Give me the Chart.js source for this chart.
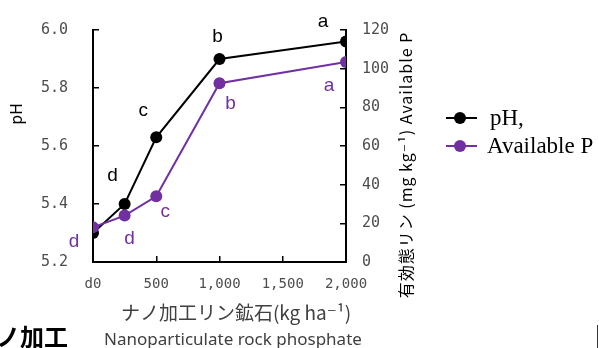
<!DOCTYPE html>
<html>
<head>
<meta charset="utf-8">
<script src="https://cdn.jsdelivr.net/npm/chart.js@4.4.1/dist/chart.umd.min.js"></script>
<style>
  html, body { margin: 0; padding: 0; background: #fff; }
  #wrap { width: 599px; height: 348px; position: relative; }
</style>
</head>
<body>
<div id="wrap"><canvas id="chart"></canvas></div>
<script>
// rates of nanoparticulate rock phosphate (kg/ha)
var rates = [0, 250, 500, 1000, 2000];
var phValues = [5.30, 5.40, 5.63, 5.90, 5.96];
var availP = [18, 24, 34, 92.5, 103.5];
var phLetters = ['', 'd', 'c', 'b', 'a'];
var pLetters = ['d', 'd', 'c', 'b', 'a'];
var xTickLabels = ['d0', '500', '1,000', '1,500', '2,000'];
var legendNames = ['pH,', 'Available P'];

var black = '#000000';
var purple = '#7030a0';
var tickGrey = '#4d4d4d';
var monoFont = "'DejaVu Sans Mono', monospace";
var jpFont = "'Noto Sans CJK JP', 'DejaVu Sans', sans-serif";

// letter offsets from the point centre, [dx, dy]
var phOffsets = [[0, 0], [-12, -28], [-13, -27], [-2, -22], [-23, -20]];
var pOffsets = [[-19, 15], [5, 23], [9, 15], [11, 21], [-17, 24]];

function pts(ys) {
    return rates.map(function (x, i) { return { x: x, y: ys[i] }; });
}

var extras = {
    id: 'extras',
    afterDatasetsDraw: function (chart) {
        var ctx = chart.ctx;
        ctx.save();
        ctx.font = "19px 'Liberation Sans', Arial, sans-serif";
        ctx.textAlign = 'center';
        ctx.textBaseline = 'middle';
        var sets = [[phLetters, phOffsets, black], [pLetters, pOffsets, purple]];
        sets.forEach(function (s, di) {
            var meta = chart.getDatasetMeta(di);
            meta.data.forEach(function (el, j) {
                if (!s[0][j]) return;
                ctx.fillStyle = s[2];
                ctx.fillText(s[0][j], el.x + s[1][j][0], el.y + s[1][j][1]);
            });
        });
        ctx.restore();
    },
    afterDraw: function (chart) {
        var ctx = chart.ctx;
        ctx.save();

        // left axis title
        ctx.fillStyle = black;
        ctx.font = "16px " + jpFont;
        ctx.textAlign = 'center';
        ctx.textBaseline = 'middle';
        ctx.translate(16, 114);
        ctx.rotate(-Math.PI / 2);
        ctx.fillText('pH', 0, 0);
        ctx.setTransform(1, 0, 0, 1, 0, 0);

        // right axis title
        ctx.font = "16px " + jpFont;
        ctx.letterSpacing = '1px';
        ctx.translate(406, 165);
        ctx.rotate(-Math.PI / 2);
        ctx.fillText('有効態リン (mg kg⁻¹) Available P', 0, 0);
        ctx.setTransform(1, 0, 0, 1, 0, 0);
        ctx.letterSpacing = '0px';

        // x axis titles
        ctx.fillStyle = '#404040';
        ctx.font = "19px " + jpFont;
        ctx.fillText('ナノ加工リン鉱石(kg ha⁻¹)', 236, 313);
        ctx.font = "17px 'Noto Sans', sans-serif";
        ctx.fillText('Nanoparticulate rock phosphate', 233, 340);

        // cut-off fragment bottom left
        ctx.fillStyle = black;
        ctx.font = "bold 24px " + jpFont;
        ctx.textAlign = 'left';
        ctx.fillText('ノ加工', -4, 337);

        ctx.strokeStyle = '#333';
        ctx.lineWidth = 1;
        ctx.beginPath();
        ctx.moveTo(597.5, 325);
        ctx.lineTo(597.5, 348);
        ctx.stroke();

        // legend
        var cols = [black, purple];
        var ys = [118, 146];
        ctx.font = "23px 'Liberation Serif', 'Times New Roman', serif";
        ctx.textBaseline = 'middle';
        legendNames.forEach(function (name, i) {
            ctx.strokeStyle = cols[i];
            ctx.lineWidth = 2;
            ctx.beginPath();
            ctx.moveTo(446, ys[i]);
            ctx.lineTo(477, ys[i]);
            ctx.stroke();
            ctx.fillStyle = cols[i];
            ctx.beginPath();
            ctx.arc(460, ys[i], 6, 0, Math.PI * 2);
            ctx.fill();
            ctx.fillStyle = black;
            ctx.fillText(name, i === 0 ? 490 : 487, ys[i] + 1);
        });
        ctx.restore();
    }
};

var axisGrid = {
    drawOnChartArea: false,
    tickLength: -6,
    color: black,
    lineWidth: 1.5
};

function fixWidth(w) {
    return function (s) {
        s.width = w;
        s.paddingTop = 0;
        s.paddingBottom = 0;
    };
}

new Chart('chart', {
    type: 'line',
    data: {
        datasets: [{
            label: legendNames[0],
            data: pts(phValues),
            yAxisID: 'y',
            borderColor: black,
            backgroundColor: black,
            borderWidth: 2,
            pointRadius: 6,
            pointBorderWidth: 0,
            tension: 0,
            order: 1
        }, {
            label: legendNames[1],
            data: pts(availP),
            yAxisID: 'y1',
            borderColor: purple,
            backgroundColor: purple,
            borderWidth: 2,
            pointRadius: 6,
            pointBorderWidth: 0,
            tension: 0,
            order: 0
        }]
    },
    options: {
        responsive: true,
        maintainAspectRatio: false,
        animation: false,
        layout: { padding: { top: 30, left: 0, right: 184, bottom: 0 } },
        plugins: { legend: { display: false }, tooltip: { enabled: false } },
        scales: {
            x: {
                type: 'linear',
                min: 0, max: 2000,
                grid: axisGrid,
                border: { color: black, width: 2 },
                ticks: {
                    stepSize: 500,
                    padding: 20,
                    color: tickGrey,
                    font: { family: monoFont, size: 14 },
                    maxRotation: 0,
                    callback: function (v, i) { return xTickLabels[i]; }
                },
                afterFit: function (s) { s.height = 86; }
            },
            y: {
                position: 'left',
                min: 5.2, max: 6.0,
                grid: axisGrid,
                border: { color: black, width: 2 },
                ticks: {
                    stepSize: 0.2,
                    padding: 31,
                    color: tickGrey,
                    font: { family: monoFont, size: 15 },
                    callback: function (v) { return v.toFixed(1); }
                },
                afterFit: fixWidth(93)
            },
            y1: {
                position: 'right',
                min: 0, max: 120,
                grid: axisGrid,
                border: { color: black, width: 2 },
                ticks: {
                    stepSize: 20,
                    padding: 22,
                    color: tickGrey,
                    font: { family: monoFont, size: 15 }
                },
                afterFit: fixWidth(69)
            }
        }
    },
    plugins: [extras]
});
</script>
</body>
</html>
